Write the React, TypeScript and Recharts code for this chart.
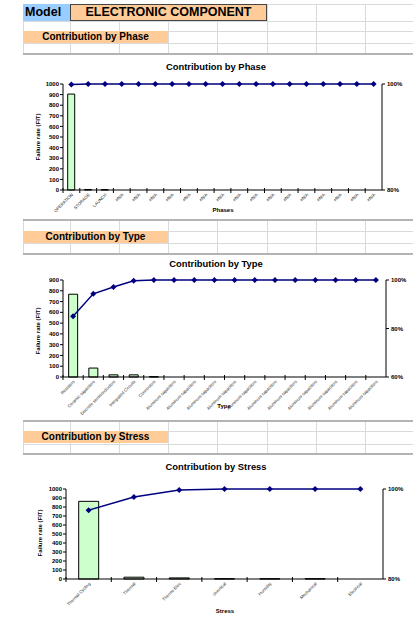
import React from 'react';
import { ComposedChart, Bar, Line, XAxis, YAxis } from 'recharts';

// --- data ---
const phaseNames = [
  'OPERATION', 'STORAGE', 'LAUNCH',
  '#N/A', '#N/A', '#N/A', '#N/A', '#N/A', '#N/A', '#N/A', '#N/A',
  '#N/A', '#N/A', '#N/A', '#N/A', '#N/A', '#N/A', '#N/A', '#N/A',
];
const phaseRates = [905, 5, 3, null, null, null, null, null, null, null, null, null, null, null, null, null, null, null, null];
const phaseCumulative = [0.999, 1, 1, 1, 1, 1, 1, 1, 1, 1, 1, 1, 1, 1, 1, 1, 1, 1, 1];

const typeNames = [
  'Resistors', 'Ceramic capacitors', 'Discrete semiconductors', 'Integrated Circuits', 'Connectors',
  'Aluminum capacitors', 'Aluminum capacitors', 'Aluminum capacitors', 'Aluminum capacitors',
  'Aluminum capacitors', 'Aluminum capacitors', 'Aluminum capacitors', 'Aluminum capacitors',
  'Aluminum capacitors', 'Aluminum capacitors', 'Aluminum capacitors',
];
const typeRates = [768, 83, 20, 20, 3, 0, 0, 0, 0, 0, 0, 0, 0, 0, 0, 0];
const typeCumulative = [0.851, 0.943, 0.971, 0.997, 1, 1, 1, 1, 1, 1, 1, 1, 1, 1, 1, 1];

const stressNames = ['Thermal Cycling', 'Thermal', 'Thermo Elec', 'chemical', 'Humidity', 'Mechanical', 'Electrical'];
const stressRates = [863, 20, 12, 3, 3, 3, 0];
const stressCumulative = [0.953, 0.982, 0.998, 1, 1, 1, 1];

const rateTicks1000 = [0, 100, 200, 300, 400, 500, 600, 700, 800, 900, 1000];
const rateTicks900 = [0, 100, 200, 300, 400, 500, 600, 700, 800, 900];
const pctTicks80 = [0.8, 1];
const pctTicks60 = [0.6, 0.8, 1];

const FONT = '"Liberation Sans", Arial, sans-serif';
const NAVY = '#000080';

const Diamond = (props: any) => {
  const { cx, cy, index } = props;
  if (cx == null || cy == null) return <g key={`d${index}`} />;
  return (
    <path
      key={`d${index}`}
      d={`M${cx},${cy - 3}L${cx + 3},${cy}L${cx},${cy + 3}L${cx - 3},${cy}Z`}
      fill={NAVY}
    />
  );
};

// Excel style category tick: mark on the category boundary, label slanted
const SlantTick = (props: any) => {
  const { x, y, payload, band } = props;
  return (
    <g transform={`translate(${x},${y})`}>
      <line x1={-band / 2} x2={-band / 2} y1={-2} y2={3} stroke="#000" />
      <text
        x={2}
        y={5}
        transform="rotate(-45 2 5)"
        textAnchor="end"
        fontSize={4.3}
        fontFamily={FONT}
        fill="#222"
      >
        {payload.value}
      </text>
    </g>
  );
};

interface ParetoProps {
  names: string[];
  rates: (number | null)[];
  cumulative: number[];
  rateMax: number;
  rateTicks: number[];
  pctMin: number;
  pctTicks: number[];
  width: number;
  height: number;
  top: number;
  leftW: number;
  rightW: number;
  xH: number;
}

function ParetoChart(p: ParetoProps) {
  const data = p.names.map((name, i) => ({ name, rate: p.rates[i], cum: p.cumulative[i] }));
  const band = (p.width - p.leftW - p.rightW) / p.names.length;
  return (
    <ComposedChart
      width={p.width}
      height={p.height}
      data={data}
      margin={{ top: p.top, right: 0, bottom: 0, left: 0 }}
      barCategoryGap="28%"
    >
      <XAxis
        dataKey="name"
        interval={0}
        height={p.xH}
        tickSize={0}
        tickMargin={0}
        tickLine={false}
        axisLine={{ stroke: '#000' }}
        tick={<SlantTick band={band} />}
      />
      <YAxis
        yAxisId="rate"
        orientation="left"
        width={p.leftW}
        domain={[0, p.rateMax]}
        ticks={p.rateTicks}
        interval={0}
        tickSize={3}
        tickMargin={1}
        axisLine={{ stroke: '#000' }}
        tickLine={{ stroke: '#000' }}
        tick={{ fontSize: 6, fontWeight: 700, fill: '#000', fontFamily: FONT }}
      />
      <YAxis
        yAxisId="pct"
        orientation="right"
        width={p.rightW}
        domain={[p.pctMin, 1]}
        ticks={p.pctTicks}
        interval={0}
        tickSize={3}
        tickMargin={2}
        axisLine={{ stroke: '#000' }}
        tickLine={{ stroke: '#000' }}
        tickFormatter={(v: number) => `${Math.round(v * 100)}%`}
        tick={{ fontSize: 6, fontWeight: 700, fill: '#000', fontFamily: FONT }}
      />
      <Bar
        yAxisId="rate"
        dataKey="rate"
        fill="#ccffcc"
        stroke="#000"
        strokeWidth={1}
        isAnimationActive={false}
      />
      <Line
        yAxisId="pct"
        dataKey="cum"
        type="linear"
        stroke={NAVY}
        strokeWidth={1.5}
        dot={Diamond}
        activeDot={false}
        isAnimationActive={false}
      />
    </ComposedChart>
  );
}

const colLines = [23, 70, 119, 168, 217, 267, 316, 365];
const rowLines = [4, 21, 31, 43, 231, 243, 431, 444];
const thickLines = [54, 220, 254, 421, 454];

const abs = (x: number, y: number, w: number, h: number): React.CSSProperties => ({
  position: 'absolute', left: x, top: y, width: w, height: h,
});

function Label({ x, y, text, size, rotate }: { x: number; y: number; text: string; size: number; rotate?: boolean }) {
  return (
    <div
      style={{
        position: 'absolute', left: x, top: y, whiteSpace: 'nowrap', fontFamily: FONT,
        fontWeight: 700, fontSize: size, color: '#000', lineHeight: 1,
        transform: `translate(-50%,-50%)${rotate ? ' rotate(-90deg)' : ''}`,
      }}
    >
      {text}
    </div>
  );
}

function SectionCell({ y, text }: { y: number; text: string }) {
  return (
    <div
      style={{
        ...abs(23, y, 145, 12), background: '#ffcc99', fontFamily: FONT, fontWeight: 700,
        fontSize: 10, textAlign: 'center', lineHeight: '12px',
      }}
    >
      {text}
    </div>
  );
}

export default function App() {
  return (
    <div style={{ position: 'absolute', left: 0, top: 0, width: 413, height: 617, background: '#fff', overflow: 'hidden' }}>
      {/* sheet grid */}
      {colLines.map((x, i) => (
        <div key={`c${i}`} style={{ ...abs(x, 4, 1, 613), background: '#dadada' }} />
      ))}
      {rowLines.map((y, i) => (
        <div key={`r${i}`} style={{ ...abs(23, y, 390, 1), background: '#dadada' }} />
      ))}

      {/* header */}
      <div style={{ ...abs(23, 4, 47, 17), background: '#99ccff', fontFamily: FONT, fontWeight: 700, fontSize: 12.5, lineHeight: '17px', paddingLeft: 2, boxSizing: 'border-box' }}>
        Model
      </div>
      <div style={{ ...abs(70, 4, 197, 17), background: '#ffcc99', border: '1px solid #444', boxSizing: 'border-box', fontFamily: FONT, fontWeight: 700, fontSize: 12.5, lineHeight: '15px', textAlign: 'center' }}>
        ELECTRONIC COMPONENT
      </div>

      <SectionCell y={31} text="Contribution by Phase" />
      <SectionCell y={231} text="Contribution by Type" />
      <SectionCell y={431} text="Contribution by Stress" />

      {/* chart areas */}
      <div style={{ ...abs(23, 54, 390, 166), background: '#fff' }}>
        <ParetoChart
          names={phaseNames} rates={phaseRates} cumulative={phaseCumulative}
          rateMax={1000} rateTicks={rateTicks1000} pctMin={0.8} pctTicks={pctTicks80}
          width={390} height={166} top={30} leftW={40} rightW={31} xH={30}
        />
      </div>
      <div style={{ ...abs(23, 254, 390, 167), background: '#fff' }}>
        <ParetoChart
          names={typeNames} rates={typeRates} cumulative={typeCumulative}
          rateMax={900} rateTicks={rateTicks900} pctMin={0.6} pctTicks={pctTicks60}
          width={390} height={167} top={26} leftW={40} rightW={27} xH={44}
        />
      </div>
      <div style={{ ...abs(23, 454, 390, 163), background: '#fff' }}>
        <ParetoChart
          names={stressNames} rates={stressRates} cumulative={stressCumulative}
          rateMax={1000} rateTicks={rateTicks1000} pctMin={0.8} pctTicks={pctTicks80}
          width={390} height={163} top={35} leftW={43} rightW={30} xH={38}
        />
      </div>

      {thickLines.map((y, i) => (
        <div key={`t${i}`} style={{ ...abs(23, y - 1, 390, 2), background: '#b4b4b4' }} />
      ))}

      {/* titles and axis names */}
      <Label x={216} y={67} text="Contribution by Phase" size={9.4} />
      <Label x={216} y={264} text="Contribution by Type" size={9.4} />
      <Label x={216} y={467} text="Contribution by Stress" size={9.4} />
      <Label x={223} y={210} text="Phases" size={6} />
      <Label x={224} y={406} text="Type" size={6} />
      <Label x={225} y={611} text="Stress" size={6} />
      <Label x={37.5} y={137} text="Failure rate (FIT)" size={6} rotate />
      <Label x={37.7} y={331} text="Failure rate (FIT)" size={6} rotate />
      <Label x={40} y={533} text="Failure rate (FIT)" size={6} rotate />
    </div>
  );
}
